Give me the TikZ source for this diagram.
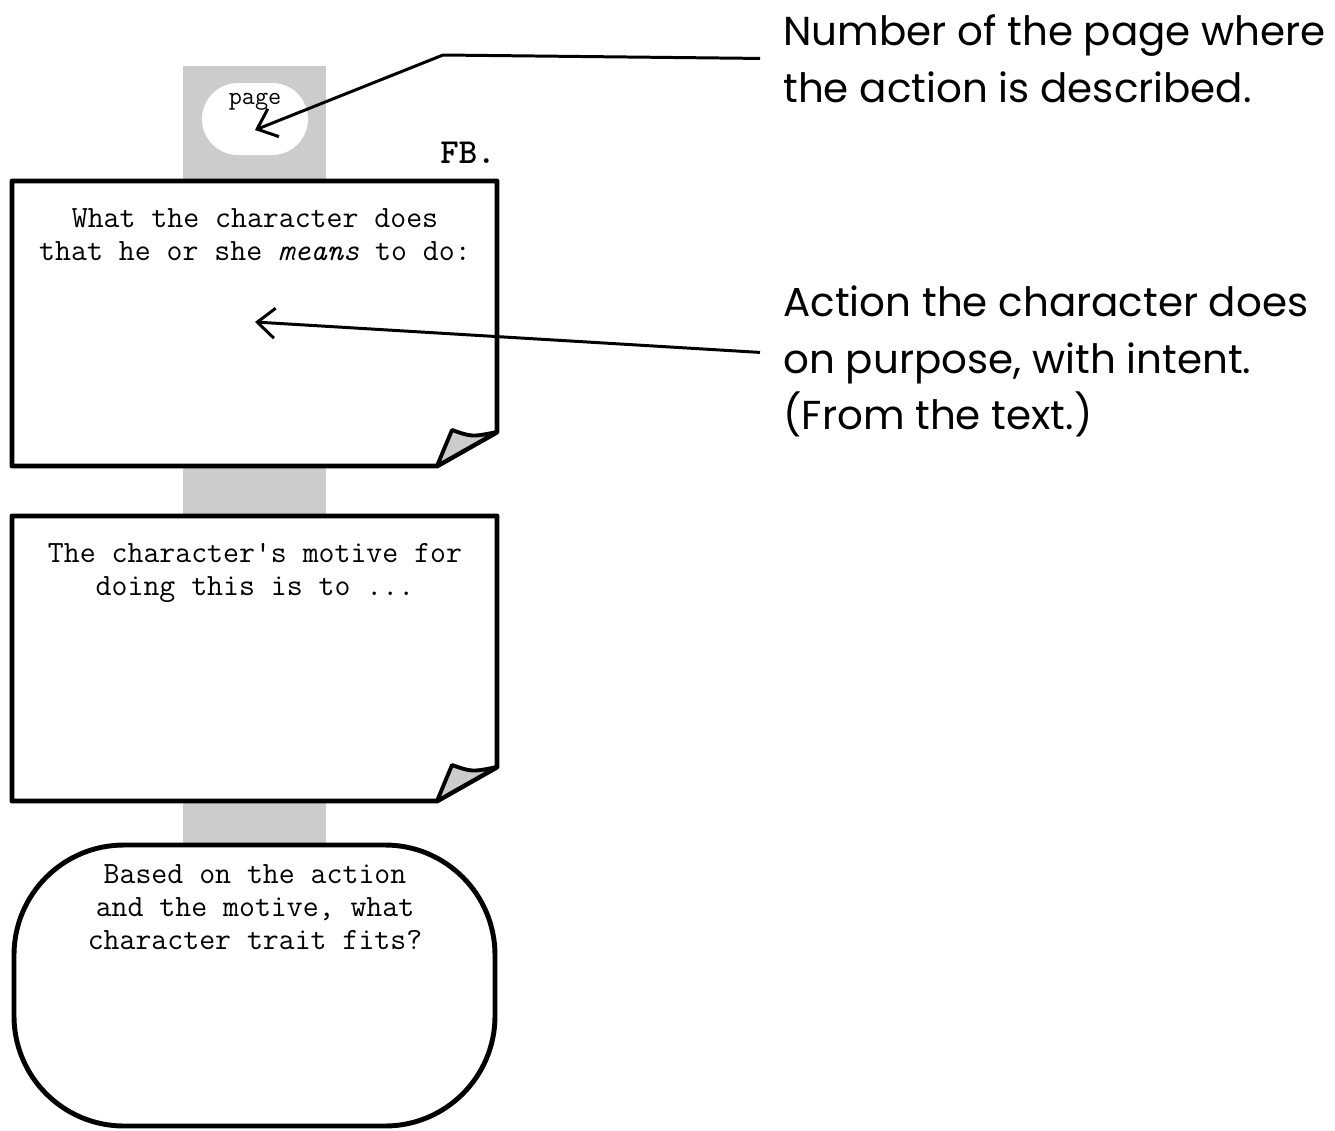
\documentclass[tikz,border=0pt]{standalone}
\usepackage{fontspec}
\newfontfamily\notefont{Poppins}
\usetikzlibrary{arrows.meta}

\tikzset{
  card/.style={line width=2.8pt, line join=round, fill=white},
  fold/.style={line width=2.2pt, line join=round, fill=black!20},
  prompt/.style={font=\ttfamily\fontsize{17.6}{18.8}\selectfont, align=center, inner sep=0pt},
  note/.style={font=\notefont\fontsize{23}{32.4}\selectfont, align=left, inner sep=0pt},
  pointer/.style={line width=1.7pt, -{Straight Barb[length=0.35cm,width=0.6cm]}},
}

\begin{document}
\begin{tikzpicture}[x=0.02cm,y=-0.02cm]
\useasboundingbox (0,0) rectangle (1335,1130);
% grey strip behind the cards
\fill[black!20] (183,66) rectangle (326,850);
% page tag
\fill[white, rounded corners=0.72cm] (202,83) rectangle (308,155);
\node[font=\ttfamily\fontsize{14.5}{16}\selectfont] (pagelbl) at (255,102) {page};
\node[font=\ttfamily\bfseries\fontsize{20}{22}\selectfont, anchor=base east, inner sep=0pt] (fb) at (496,163) {FB.};
%
\draw[card] (12,181) -- (497,181) -- (497,432) -- (437,466) -- (12,466) -- cycle;
\draw[fold] (437,466) -- (452,430) .. controls (472,437) .. (497,432) -- cycle;
\node[prompt, anchor=north] (doesq) at (255,208) {What the character does\\that he or she \textit{means} to do:};
%
\draw[card] (12,516) -- (497,516) -- (497,767) -- (437,801) -- (12,801) -- cycle;
\draw[fold] (437,801) -- (452,765) .. controls (472,772) .. (497,767) -- cycle;
\node[prompt, anchor=north] (motiveq) at (255,543) {The character's motive for\\doing this is to ...};
%
\draw[card, rounded corners=2.2cm] (14,845) rectangle (495,1126);
\node[prompt, anchor=north] (traitq) at (255,864) {Based on the action\\and the motive, what\\character trait fits?};
%
\node[note, anchor=north west] (pagenote) at (783,14) {Number of the page where\\the action is described.};
\node[note, anchor=north west] (actnote) at (783,285) {Action the character does\\on purpose, with intent.\\(From the text.)};
%
\coordinate (pagebend) at (443,55);
\coordinate (pagetip) at (255,130);
\coordinate (actiontip) at (255,322);
\draw[pointer] ([xshift=-0.46cm]pagenote.west) -- (pagebend) -- (pagetip);
\draw[pointer] ([xshift=-0.46cm,yshift=0.18cm]actnote.west) -- (actiontip);
\end{tikzpicture}
\end{document}
